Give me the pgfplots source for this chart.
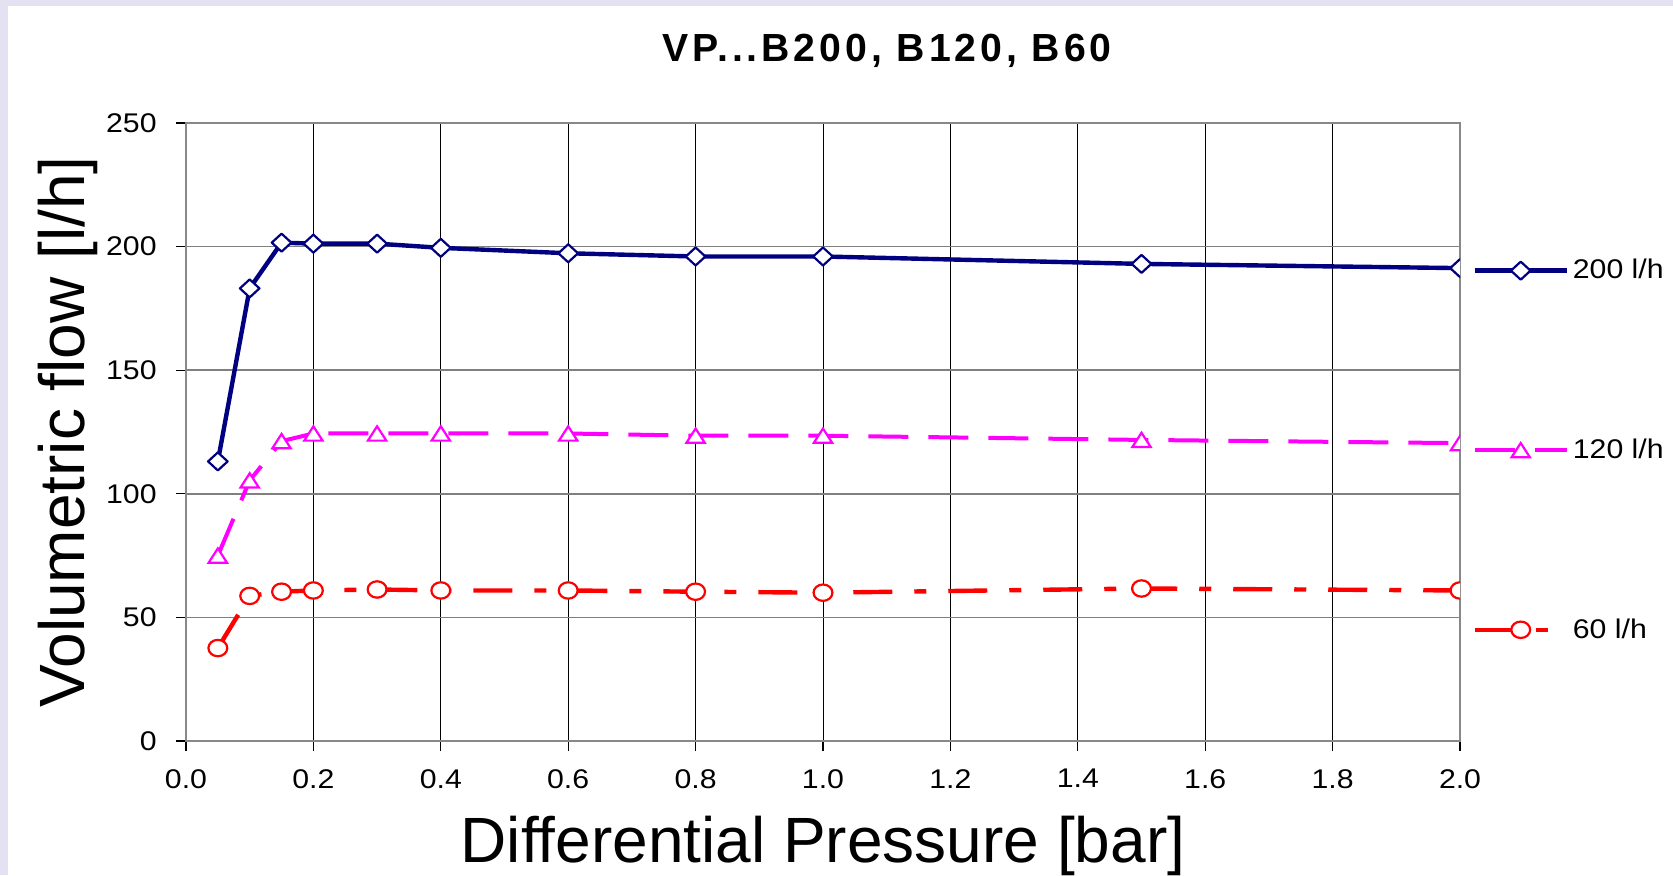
\documentclass[border=0pt]{standalone}
\usepackage{pgfplots}
\pgfplotsset{compat=1.18}
\usepackage{fontspec}
\setmainfont{Liberation Sans}
\newfontfamily\tickfont[FakeStretch=1.12]{Liberation Sans}
\newfontfamily\titlefont[LetterSpace=10]{Liberation Sans}
\definecolor{bgl}{HTML}{E4E1F2}
\definecolor{navyc}{HTML}{000080}
\definecolor{magc}{HTML}{FF00FF}
\definecolor{redc}{HTML}{FF0000}
\definecolor{axgray}{HTML}{888888}

\begin{document}
\begin{tikzpicture}
\fill[bgl] (-93pt,-67pt) rectangle (743.5pt,370.5pt);
\fill[white] (-88.75pt,-67pt) rectangle (743.5pt,367.5pt);
\begin{axis}[
  scale only axis, width=637pt, height=309pt,
  xmin=0, xmax=2, ymin=0, ymax=250,
  clip marker paths=true,
  xtick={0,0.2,0.4,0.6,0.8,1.0,1.2,1.4,1.6,1.8,2.0},
  ytick={0,50,100,150,200,250},
  /pgf/number format/assume math mode=true,
  ticklabel style={font=\tickfont\fontsize{13.5}{16}\selectfont},
  yticklabel style={anchor=east, inner sep=0pt, xshift=-9.5pt},
  xticklabel style={anchor=north, inner sep=0pt, yshift=-9pt, /pgf/number format/.cd, fixed, fixed zerofill, precision=1},
  tick align=outside, major tick length=5pt,
  tick style={black, line width=0.6pt},
  xtick pos=bottom, ytick pos=left,
  axis line style={axgray, line width=1.2pt},
  xmajorgrids, ymajorgrids,
  x grid style={black, line width=0.5pt},
  y grid style={gray, line width=0.8pt},
  title={\titlefont\bfseries VP...B200, B120, B60},
  title style={at={(axis description cs:0.5502,1.0809)}, anchor=base, font=\titlefont\bfseries\fontsize{19.6}{23}\selectfont},
  xlabel={Differential Pressure [bar]},
  xlabel style={at={(axis description cs:0.5,-0.1958)}, anchor=base, font=\fontsize{32}{38}\selectfont},
  ylabel={Volumetric flow [l/h]},
  ylabel style={at={(axis description cs:-0.0793,0.5)}, anchor=base, font=\fontsize{32}{38}\selectfont},
  legend image code/.code={\draw[mark repeat=2,mark phase=2,#1] plot coordinates {(0pt,0pt) (23pt,0pt) (46pt,0pt)};},
  legend style={draw=none, fill=none, at={(axis description cs:1.0095,0.78)}, anchor=north west, inner sep=0pt, row sep=78.5pt, column sep=2pt, font=\tickfont\fontsize{13.5}{16}\selectfont, nodes={inner sep=0pt}},
  legend cell align=left,
]
\addplot[navyc, line width=2.2pt, line join=round, mark=diamond*, mark size=4.5pt,
  mark options={solid, fill=white, line width=1.1pt, xscale=1.45}] coordinates {
  (0.05,113.1) (0.1,183.1) (0.15,201.6) (0.2,201.2) (0.3,201.2) (0.4,199.5)
  (0.6,197.3) (0.8,196.0) (1.0,196.0) (1.5,193.0) (2.0,191.3)};
\addlegendentry{200 l/h}
\addplot[magc, line width=2pt, dash pattern=on 20pt off 10pt, mark=triangle*, mark size=5.3pt,
  mark options={solid, fill=white, line width=1.1pt, yscale=0.9, yshift=-1.3pt}] coordinates {
  (0.05,75.0) (0.1,105.4) (0.15,121.3) (0.2,124.4) (0.3,124.4) (0.4,124.4)
  (0.6,124.4) (0.8,123.5) (1.0,123.5) (1.5,121.8) (2.0,120.5)};
\addlegendentry{120 l/h}
\addplot[redc, line width=2.2pt, dash pattern=on 19.5pt off 11pt on 6pt off 11pt, mark=*, mark size=4.1pt,
  mark options={solid, fill=white, line width=1.1pt, xscale=1.15}] coordinates {
  (0.05,37.6) (0.1,58.7) (0.15,60.4) (0.2,60.9) (0.3,61.3) (0.4,60.9)
  (0.6,60.9) (0.8,60.4) (1.0,60.0) (1.5,61.7) (2.0,60.9)};
\addlegendentry{60 l/h}
\end{axis}
\pgfresetboundingbox
\useasboundingbox (-93pt,-67pt) rectangle (743.5pt,370.5pt);
\end{tikzpicture}
\end{document}
